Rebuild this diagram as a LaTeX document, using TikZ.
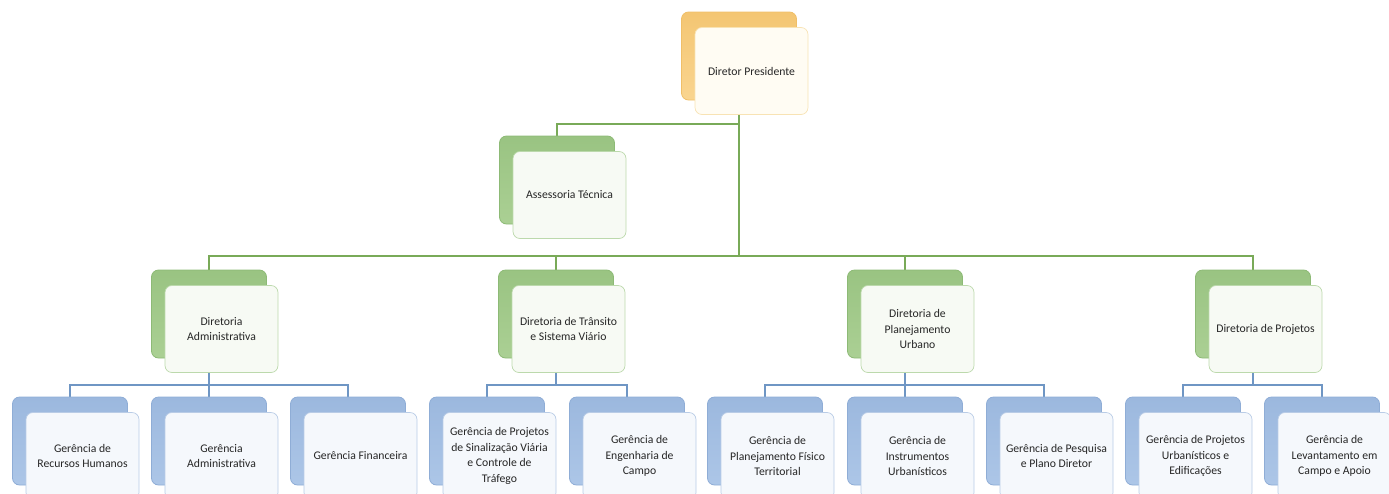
\documentclass[tikz,border=0pt]{standalone}
\usepackage{fontspec}
\setmainfont{Carlito}
\usetikzlibrary{backgrounds}
\definecolor{orB}{HTML}{F9D083}
\definecolor{orE}{HTML}{F0BF68}
\definecolor{orF}{HTML}{FFFCF3}
\definecolor{orL}{HTML}{F8E3B4}
\definecolor{grB}{HTML}{A6CD8E}
\definecolor{grE}{HTML}{8DBA76}
\definecolor{grF}{HTML}{F7FAF4}
\definecolor{grL}{HTML}{BCD9AC}
\definecolor{blB}{HTML}{A8C3E6}
\definecolor{blE}{HTML}{8FADD6}
\definecolor{blF}{HTML}{F5F8FC}
\definecolor{blL}{HTML}{B9CCE6}
\definecolor{gline}{HTML}{79AA58}
\definecolor{bline}{HTML}{6F96C4}
\tikzset{
  backbox/.style={minimum width=115pt, minimum height=88pt, inner sep=0pt, rounded corners=7pt, line width=0.8pt},
  frontbox/.style={minimum width=113pt, minimum height=87pt, inner sep=0pt, rounded corners=7pt, line width=0.7pt,
     align=center, font=\fontsize{11.7}{15.5}\selectfont, text=black!85},
  orback/.style={backbox, draw=orE, top color=orE!60!orB, bottom color=orB!90!white},
  grback/.style={backbox, draw=grE, top color=grE!50!grB, bottom color=grB!95!white},
  blback/.style={backbox, draw=blE, top color=blE!50!blB, bottom color=blB!95!white},
  orfront/.style={frontbox, draw=orL, fill=orF},
  grfront/.style={frontbox, draw=grL, fill=grF},
  blfront/.style={frontbox, draw=blL, fill=blF},
  gconn/.style={draw=gline, line width=1.6pt},
  bconn/.style={draw=bline, line width=1.6pt},
}
\newcommand{\orgunit}[6]{% name, cx, top, kind, text
  \node[#4back] (#1b) at (#2,#3+44) {};
  \node[#4front] (#1) at (#2+12.5,#3+59) {#5};
}
\begin{document}
\begin{tikzpicture}[x=1pt,y=-1pt]
\path[use as bounding box] (0,0) rectangle (1389,493);
\clip (0,0) rectangle (1389,493);
% top
\orgunit{dp}{739}{12}{or}{Diretor Presidente}{}
\orgunit{at}{557}{136}{gr}{Assessoria Técnica}{}
% diretorias
\orgunit{da}{209}{270}{gr}{Diretoria\\Administrativa}{}
\orgunit{dt}{556}{270}{gr}{Diretoria de Trânsito\\e Sistema Viário}{}
\orgunit{du}{905}{270}{gr}{Diretoria de\\Planejamento\\Urbano}{}
\orgunit{dj}{1253}{270}{gr}{Diretoria de Projetos}{}
% gerencias
\orgunit{g1}{70}{397}{bl}{Gerência de\\Recursos Humanos}{}
\orgunit{g2}{209}{397}{bl}{Gerência\\Administrativa}{}
\orgunit{g3}{348}{397}{bl}{Gerência Financeira}{}
\orgunit{g4}{487}{397}{bl}{Gerência de Projetos\\de Sinalização Viária\\e Controle de\\Tráfego}{}
\orgunit{g5}{627}{397}{bl}{Gerência de\\Engenharia de\\Campo}{}
\orgunit{g6}{765}{397}{bl}{Gerência de\\Planejamento Físico\\Territorial}{}
\orgunit{g7}{905}{397}{bl}{Gerência de\\Instrumentos\\Urbanísticos}{}
\orgunit{g8}{1044}{397}{bl}{Gerência de Pesquisa\\e Plano Diretor}{}
\orgunit{g9}{1183}{397}{bl}{Gerência de Projetos\\Urbanísticos e\\Edificações}{}
\orgunit{g10}{1322}{397}{bl}{Gerência de\\Levantamento em\\Campo e Apoio}{}
\coordinate (ya) at (0,124);
\coordinate (yb) at (0,256);
\coordinate (yc) at (0,385);
\begin{pgfonlayer}{background}
\draw[gconn] (dpb.center |- dp.south) -- (dpb.center |- yb);
\draw[gconn] (dpb.center |- ya) -- (atb.north |- ya) -- (atb.north);
\draw[gconn] (dab.north) -- (dab.north |- yb) -- (djb.north |- yb) -- (djb.north);
\draw[gconn] (dtb.north) -- (dtb.north |- yb);
\draw[gconn] (dub.north) -- (dub.north |- yb);
% admin
\draw[bconn] (dab.center |- da.south) -- (dab.center |- yc);
\draw[bconn] (g1b.north) -- (g1b.north |- yc) -- (g3b.north |- yc) -- (g3b.north);
\draw[bconn] (g2b.north) -- (g2b.north |- yc);
% transito
\draw[bconn] (dtb.center |- dt.south) -- (dtb.center |- yc);
\draw[bconn] (g4b.north) -- (g4b.north |- yc) -- (g5b.north |- yc) -- (g5b.north);
% planejamento
\draw[bconn] (dub.center |- du.south) -- (dub.center |- yc);
\draw[bconn] (g6b.north) -- (g6b.north |- yc) -- (g8b.north |- yc) -- (g8b.north);
\draw[bconn] (g7b.north) -- (g7b.north |- yc);
% projetos
\draw[bconn] (djb.center |- dj.south) -- (djb.center |- yc);
\draw[bconn] (g9b.north) -- (g9b.north |- yc) -- (g10b.north |- yc) -- (g10b.north);
\end{pgfonlayer}
\end{tikzpicture}
\end{document}
